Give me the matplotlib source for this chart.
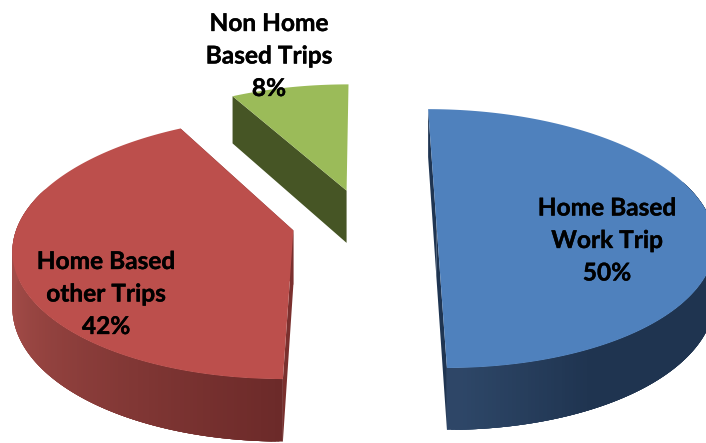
import numpy as np
import matplotlib
matplotlib.use("Agg")
import matplotlib.pyplot as plt
import matplotlib.patheffects as pe
from matplotlib.patches import Polygon
from matplotlib.colors import to_rgb

# Trip purpose shares
categories = ["Home Based\nWork Trip", "Home Based\nother Trips", "Non Home\nBased Trips"]
shares = [50, 42, 8]

top_colors = ["#4f81bd", "#bc4f4c", "#9bbb59"]
cut_colors = ["#1f3552", "#7a302e", "#465525"]
wall_light = ["#2e4768", "#a34c48", "#465525"]
wall_dark = ["#1f3450", "#6c2a29", "#465525"]
wall_fade = [0.45, 1.3, 1.0]
label_xy = [(607, 240.5), (106, 294), (269, 56)]

# Projection of the pie plane onto the canvas
CX, CY = 364.0, 222.0
AX, AY = 275.0, 127.3
PERSP = 0.128
EXPLODE = 0.263
DEPTH = 54.0


def project(X, Y, drop=0.0):
    s = 1.0 / (1.0 + PERSP * Y)
    return CX + AX * X * s, CY - AY * Y * s + drop * s


def mix(a, b, t):
    a, b = np.array(to_rgb(a)), np.array(to_rgb(b))
    return tuple(a + (b - a) * t)


fig = plt.figure(figsize=(7.06, 4.43), dpi=100)
ax = fig.add_axes([0, 0, 1, 1])
ax.set_xlim(0, 706)
ax.set_ylim(443, 0)
ax.axis("off")

fractions = np.array(shares) / np.sum(shares)
edges = np.concatenate([[0], np.cumsum(fractions)]) * 2 * np.pi

for i in range(len(shares)):
    t0, t1 = edges[i], edges[i + 1]
    mid = (t0 + t1) / 2
    ox, oy = EXPLODE * np.sin(mid), EXPLODE * np.cos(mid)
    theta = np.linspace(t0, t1, 240)
    wx, wy = ox + np.sin(theta), oy + np.cos(theta)

    # cut faces first, the top surface hides whatever should not show;
    # the last slice's closing face is edge-on and stays undrawn
    faces = (t0,) if i == len(shares) - 1 else (t0, t1)
    for tc in faces:
        ex, ey = ox + np.sin(tc), oy + np.cos(tc)
        pts = [project(ox, oy), project(ex, ey), project(ex, ey, DEPTH), project(ox, oy, DEPTH)]
        ax.add_patch(Polygon(pts, closed=True, fc=cut_colors[i], ec="none", zorder=i * 3 + 1))

    # outer wall as overlapping shaded strips so no seams appear;
    # strips on the far side of the pie face away and are skipped
    px, py = project(wx, wy)
    bx, by = project(wx, wy, DEPTH)
    n = len(theta)
    for k in range(n - 1):
        if np.cos(theta[k]) > 0.3:
            continue
        if i == 0:
            shade = np.clip((np.pi - theta[k]) / wall_fade[i], 0, 1)
            a, b = max(k - 3, 0), k + 1
        else:
            shade = 1 - np.clip((theta[k] - np.pi) / wall_fade[i], 0, 1)
            a, b = k, min(k + 4, n - 1)
        col = mix(wall_light[i], wall_dark[i], shade)
        quad = [(px[a], py[a]), (px[b], py[b]), (bx[b], by[b]), (bx[a], by[a])]
        ax.add_patch(Polygon(quad, closed=True, fc=col, ec="none", zorder=i * 3 + 2))

    apex = project(ox, oy)
    outline = [apex] + list(zip(px, py))
    ax.add_patch(Polygon(outline, closed=True, fc=top_colors[i], ec="none", zorder=i * 3 + 3))

for name, share, (lx, ly) in zip(categories, shares, label_xy):
    ax.text(lx, ly, f"{name}\n{share}%", ha="center", va="center", multialignment="center",
            family="Lato", weight="bold", fontsize=17.6, color="black", linespacing=1.5, zorder=20,
            path_effects=[pe.withStroke(linewidth=0.25, foreground="black")])

fig.savefig("out.png", dpi=100)
